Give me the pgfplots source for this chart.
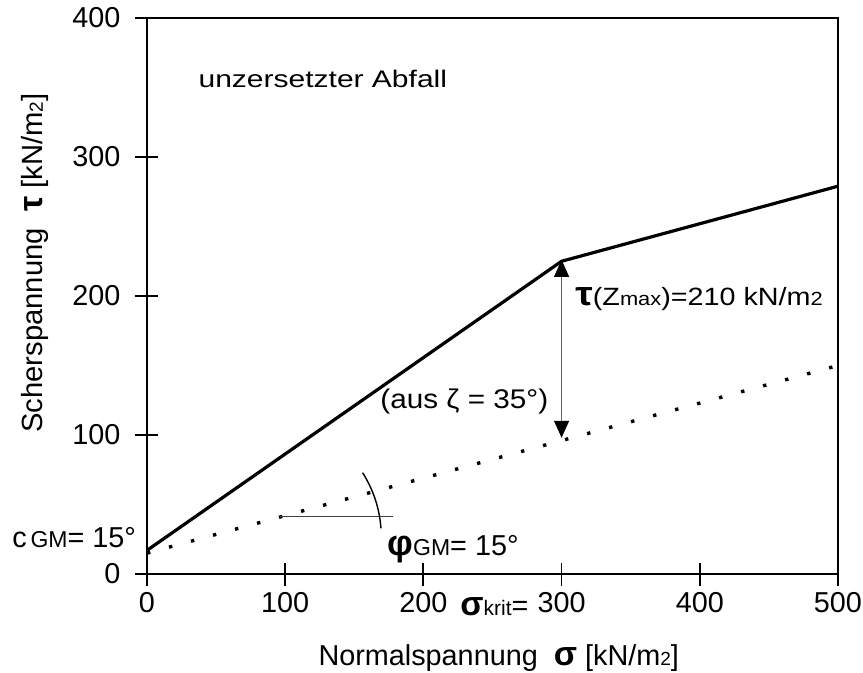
\documentclass[border=0pt]{standalone}
\usepackage{fontspec}
\setmainfont{Liberation Sans}
\usepackage{pgfplots}
\pgfplotsset{compat=1.18}
\usetikzlibrary{arrows.meta}

\newcommand\fs[1]{\fontsize{#1}{#1}\selectfont}

\begin{document}
\begin{tikzpicture}
\begin{axis}[
  width=345.5pt, height=278pt, scale only axis,
  xmin=0, xmax=500, ymin=0, ymax=400,
  xtick={0,100,...,500}, ytick={0,100,...,400},
  xtick pos=bottom, ytick pos=left,
  tick align=center, major tick length=11.5pt,
  axis line style={line width=0.9pt},
  major tick style={black, line width=0.9pt},
  /pgf/number format/assume math mode=true,
  tick label style={font=\fs{14.4}},
  yticklabel style={xshift=-4pt},
  clip=false,
]
% Bruchgeraden
\addplot[black, line width=1.6pt] coordinates {(0,17) (300,225) (500,279)};
\addplot[black, line width=1.7pt, dash pattern=on 1.7pt off 9.7pt] coordinates {(0,15) (500,150)};

% Pfeil tau(Zmax)
\draw[black!60, line width=0.6pt,
  {Triangle[length=8.5pt,width=7.5pt,color=black]}-{Triangle[length=8.5pt,width=7.5pt,color=black]}]
  (axis cs:300,226) -- (axis cs:300,98);

% Winkel phi
\draw[black!75, line width=0.7pt] (axis cs:96,41.5) -- (axis cs:178,41.5);
\draw[black, line width=0.7pt] (axis cs:83.4,26.9) ++(4:59.5pt) arc[start angle=4, end angle=32.5, radius=59.5pt];

% Beschriftungen
\node[anchor=base west, font=\fs{12}, xscale=1.25, inner sep=0pt] at (axis cs:37,350) {unzersetzter Abfall};
\node[anchor=base west, font=\fs{12.5}, xscale=1.15, inner sep=0pt] at (axis cs:309.7,193.5)
  {{\fs{17}\bfseries τ}({\fs{12.5}Z}{\fs{9.5}max})=210 kN/m{\fs{9.5}2}};
\node[anchor=base west, font=\fs{13.5}, xscale=1.1, inner sep=0pt] at (axis cs:168.6,119.4) {(aus ζ = 35°)};
\node[anchor=base west, font=\fs{14.4}, inner sep=0pt] at (axis cs:-97.7,19.4) {c{\fs{11.5}\,GM}= 15°};
\node[anchor=base west, font=\fs{14.4}, inner sep=0pt] at (axis cs:173.7,13) {{\fs{18}\bfseries φ}{\fs{11.5}GM}= 15°};
\node[anchor=base west, font=\fs{14.4}, inner sep=0pt] at (axis cs:226.5,-29.5) {{\fs{17}\bfseries σ}{\fs{10.5}krit}=};

% Achsentitel
\node[anchor=base, font=\fs{14.4}, inner sep=0pt] at (rel axis cs:0.509,-0.1637)
  {Normalspannung\ \ {\fs{17}\bfseries σ} [kN/m{\fs{9.5}2}]};
\node[anchor=base, rotate=90, font=\fs{14.6}, inner sep=0pt] at (rel axis cs:-0.1505,0.559)
  {Scherspannung\ \ {\fs{17}\bfseries τ} [kN/m{\fs{9.5}2}]};

\coordinate (bl) at (rel axis cs:-0.2127,-0.1763);
\coordinate (tr) at (rel axis cs:1.0362,1.0324);
\end{axis}
\pgfresetboundingbox
\path (bl) rectangle (tr);
\end{tikzpicture}
\end{document}
